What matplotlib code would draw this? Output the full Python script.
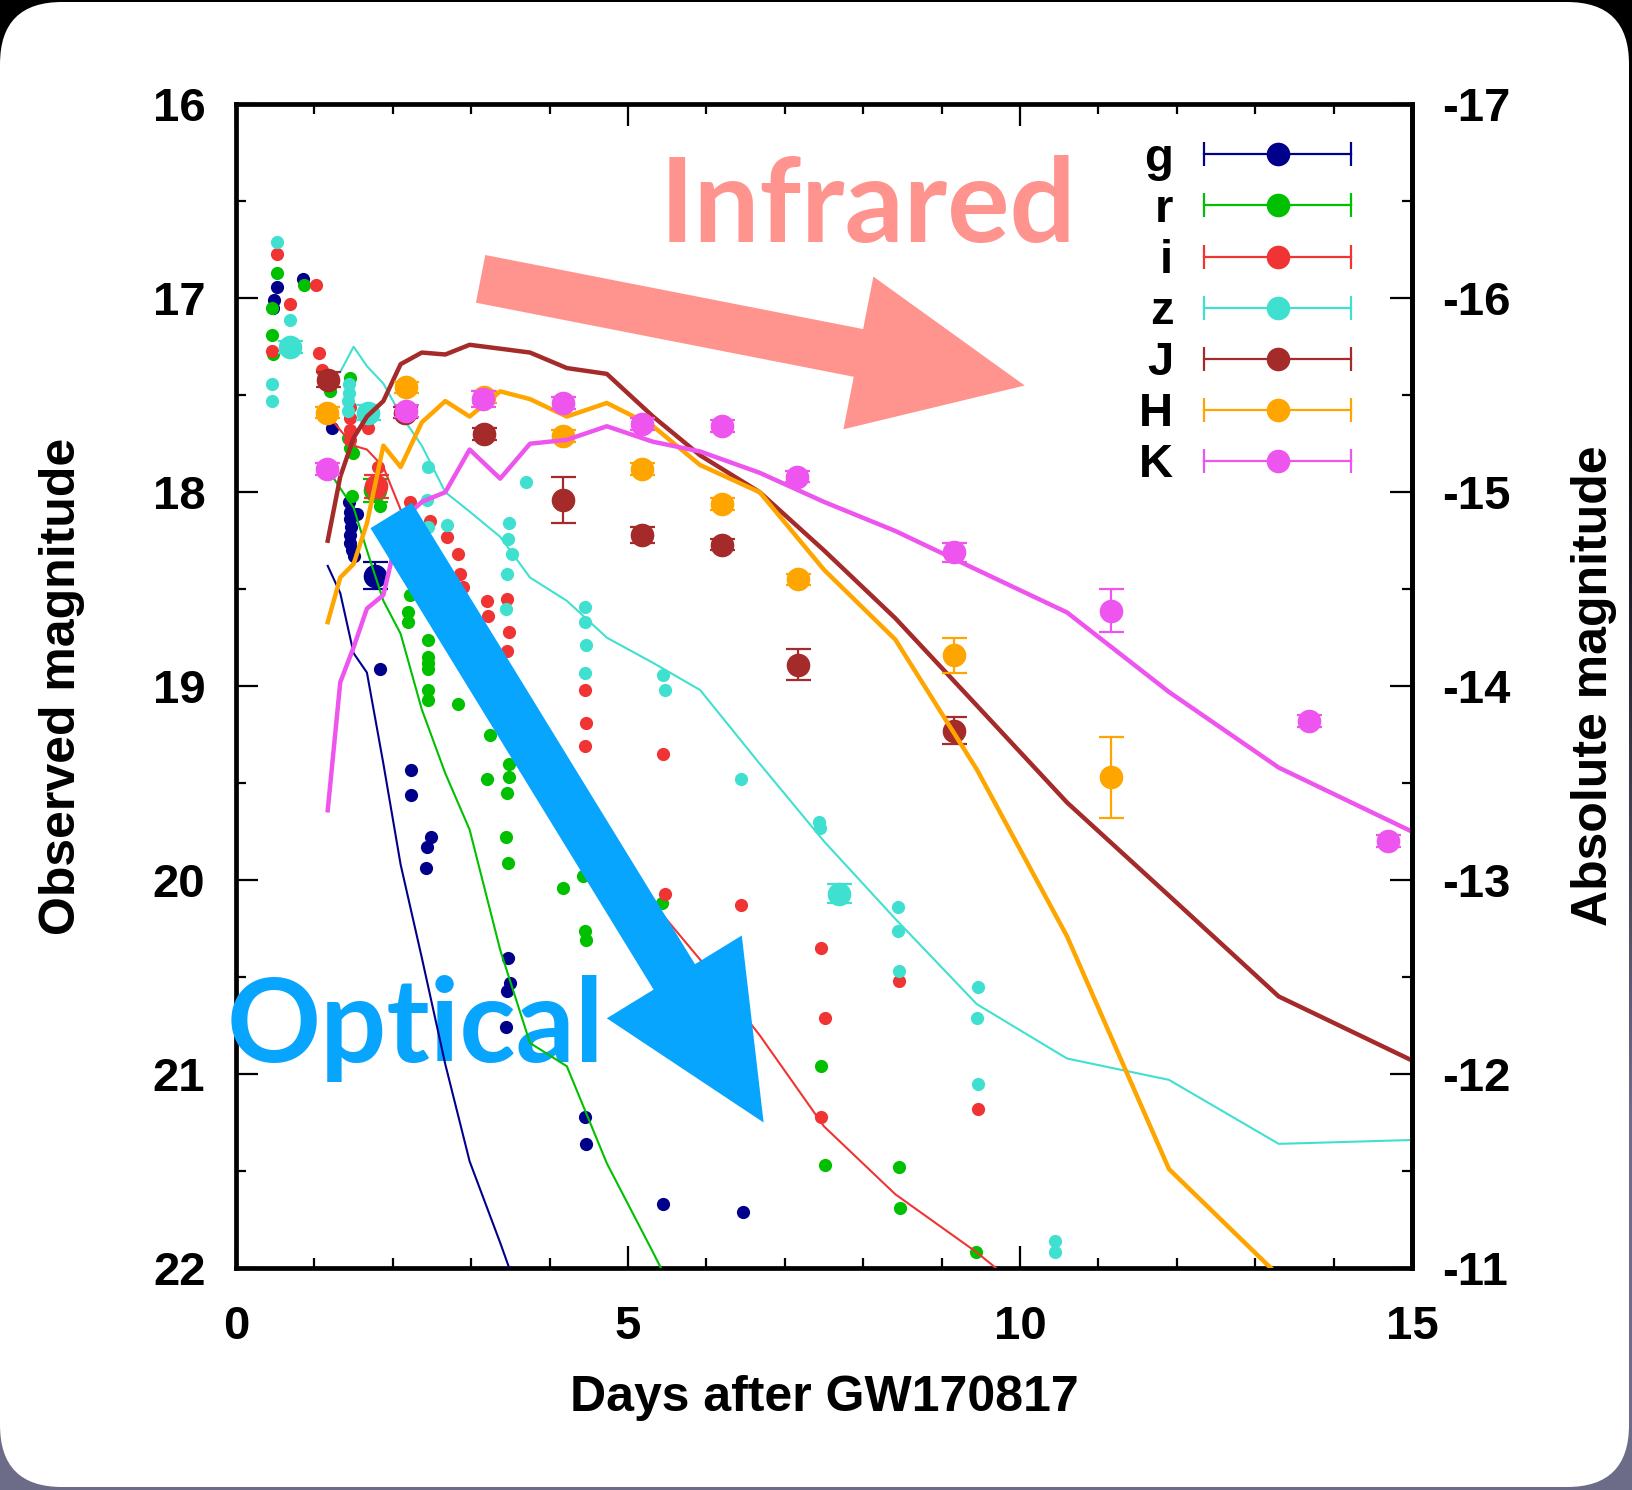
import numpy as np
import matplotlib
matplotlib.use('Agg')
import matplotlib.pyplot as plt
from matplotlib.ticker import MultipleLocator
from matplotlib.lines import Line2D
from matplotlib.legend_handler import HandlerBase
from matplotlib.patches import FancyBboxPatch, FancyArrowPatch
from matplotlib.transforms import IdentityTransform
from matplotlib.colors import LinearSegmentedColormap

plt.rcParams['font.family'] = ['Liberation Sans', 'DejaVu Sans']
plt.rcParams['font.weight'] = 'bold'
plt.rcParams['axes.labelweight'] = 'bold'
plt.rcParams['axes.unicode_minus'] = False

bands = ['g', 'r', 'i', 'z', 'J', 'H', 'K']
colors = {'g': '#00008b', 'r': '#00c000', 'i': '#f03434', 'z': '#40e0d0',
          'J': '#a52a2a', 'H': '#ffa500', 'K': '#ee55ee'}

# small photometry points (days, mag)
g_t = [0.52, 0.48, 0.47, 0.86, 1.22, 1.44, 1.45, 1.46, 1.47, 1.45, 1.46, 1.48, 1.50, 1.54,
       1.84, 2.23, 2.23, 2.49, 2.44, 2.42, 3.47, 3.50, 3.46, 3.44, 4.45, 4.46, 5.45, 6.47]
g_m = [16.94, 17.01, 17.05, 16.90, 17.67, 18.05, 18.10, 18.14, 18.18, 18.22, 18.26, 18.30, 18.33, 18.11,
       18.91, 19.43, 19.56, 19.78, 19.83, 19.94, 20.40, 20.53, 20.57, 20.76, 21.22, 21.36, 21.67, 21.71]

r_t = [0.52, 0.46, 0.46, 0.47, 0.87, 1.20, 1.45, 1.43, 1.45, 1.49, 1.48, 1.84, 2.22, 2.20, 2.20,
       2.45, 2.45, 2.45, 2.45, 2.45, 2.45, 2.83, 3.24, 3.48, 3.20, 3.48, 3.46, 3.44, 3.47, 4.17,
       4.43, 4.45, 4.46, 5.43, 7.46, 7.51, 8.46, 8.47, 9.44]
r_m = [16.87, 17.05, 17.19, 17.29, 16.93, 17.48, 17.41, 17.72, 17.77, 17.80, 18.02, 18.07, 18.53, 18.62, 18.67,
       18.76, 18.85, 18.88, 18.91, 19.02, 19.07, 19.09, 19.25, 19.40, 19.48, 19.47, 19.55, 19.78, 19.91, 20.04,
       19.98, 20.26, 20.31, 20.12, 20.96, 21.47, 21.48, 21.69, 21.92]

i_t = [0.52, 1.02, 0.69, 0.46, 1.06, 1.10, 1.45, 1.45, 1.45, 1.45, 1.68, 1.81, 2.22, 2.47, 2.69,
       2.83, 2.86, 2.90, 3.20, 3.21, 3.46, 3.48, 3.46, 4.45, 4.46, 4.45, 5.45, 5.47, 6.44, 7.46,
       7.51, 7.46, 8.46, 9.47]
i_m = [16.77, 16.93, 17.03, 17.27, 17.28, 17.37, 17.56, 17.62, 17.68, 17.73, 17.67, 17.87, 18.05, 18.15, 18.23,
       18.32, 18.42, 18.49, 18.56, 18.64, 18.55, 18.72, 18.82, 19.02, 19.19, 19.31, 19.35, 20.07, 20.13, 20.35,
       20.71, 21.22, 20.52, 21.18]

z_t = [0.52, 0.69, 0.46, 0.46, 1.44, 1.44, 1.43, 1.43, 2.45, 2.44, 2.45, 2.69, 3.70, 3.48, 3.47,
       3.52, 3.46, 3.44, 4.45, 4.45, 4.47, 4.45, 5.45, 5.47, 6.44, 7.44, 7.45, 8.44, 8.45, 8.46,
       9.46, 9.45, 9.47, 10.45, 10.45]
z_m = [16.71, 17.11, 17.44, 17.53, 17.44, 17.49, 17.53, 17.58, 17.87, 18.04, 18.18, 18.17, 17.95, 18.16, 18.24,
       18.32, 18.42, 18.60, 18.59, 18.67, 18.79, 18.93, 18.94, 19.02, 19.48, 19.70, 19.73, 20.14, 20.26, 20.47,
       20.55, 20.71, 21.05, 21.86, 21.92]

small = {'g': (g_t, g_m), 'r': (r_t, r_m), 'i': (i_t, i_m), 'z': (z_t, z_m)}

# points with error bars (days, mag, err)
big = {
    'g': ([1.77], [18.43], [0.07]),
    'r': ([1.77], [17.99], [0.06]),
    'i': ([1.78], [17.97], [0.06]),
    'z': ([0.69, 1.68, 7.69], [17.25, 17.59, 20.07], [0.03, 0.04, 0.05]),
    'J': ([1.17, 2.16, 3.16, 4.17, 5.18, 6.20, 7.17, 9.16],
          [17.42, 17.59, 17.70, 18.04, 18.22, 18.27, 18.89, 19.23],
          [0.04, 0.03, 0.03, 0.12, 0.04, 0.03, 0.08, 0.07]),
    'H': ([1.16, 2.17, 3.16, 4.17, 5.18, 6.20, 7.17, 9.16, 11.16],
          [17.59, 17.46, 17.51, 17.71, 17.88, 18.06, 18.45, 18.84, 19.47],
          [0.03, 0.03, 0.03, 0.03, 0.03, 0.03, 0.03, 0.09, 0.21]),
    'K': ([1.16, 2.17, 3.15, 4.17, 5.18, 6.20, 7.16, 9.16, 11.16, 13.69, 14.70],
          [17.88, 17.58, 17.52, 17.54, 17.65, 17.66, 17.92, 18.31, 18.61, 19.18, 19.80],
          [0.03, 0.03, 0.04, 0.03, 0.03, 0.03, 0.03, 0.05, 0.11, 0.03, 0.03]),
}

# model light curves
t_mod = [1.17, 1.33, 1.5, 1.67, 1.88, 2.1, 2.37, 2.67, 2.98, 3.37, 3.75, 4.22, 4.73, 5.32,
         5.92, 6.68, 7.5, 8.41, 9.45, 10.6, 11.9, 13.3, 15.0]
g_mod = [18.38, 18.52, 18.83, 18.93, 19.4, 19.92, 20.4, 20.95, 21.45, 21.87, 22.3]
r_mod = [17.88, 17.98, 18.08, 18.3, 18.56, 18.73, 19.12, 19.45, 19.74, 20.36, 20.84, 20.96, 21.46, 21.92, 22.4]
i_mod = [17.6, 17.68, 17.76, 17.78, 17.87, 18.09, 18.3, 18.55, 18.8, 19.08, 19.33, 19.6, 19.85, 20.12,
         20.41, 20.8, 21.27, 21.62, 21.92, 22.3]
z_mod = [17.40, 17.38, 17.25, 17.35, 17.44, 17.6, 17.76, 18.0, 18.1, 18.23, 18.44, 18.56, 18.75, 18.88,
         19.02, 19.4, 19.8, 20.2, 20.64, 20.92, 21.03, 21.36, 21.34]
J_mod = [18.25, 17.92, 17.72, 17.61, 17.53, 17.34, 17.28, 17.29, 17.24, 17.26, 17.28, 17.36, 17.39, 17.61,
         17.81, 18.0, 18.3, 18.65, 19.1, 19.6, 20.08, 20.6, 20.93]
H_mod = [18.67, 18.44, 18.37, 18.16, 17.76, 17.87, 17.64, 17.53, 17.61, 17.48, 17.52, 17.61, 17.54, 17.66,
         17.86, 18.0, 18.4, 18.76, 19.43, 20.29, 21.49, 22.04, 22.8]
K_mod = [19.64, 18.98, 18.8, 18.6, 18.53, 18.15, 18.05, 18.0, 17.78, 17.93, 17.75, 17.73, 17.66, 17.74,
         17.79, 17.9, 18.05, 18.2, 18.4, 18.62, 19.03, 19.42, 19.75]
models = {'g': g_mod, 'r': r_mod, 'i': i_mod, 'z': z_mod, 'J': J_mod, 'H': H_mod, 'K': K_mod}

DIST_MOD = 33  # absolute = observed - 33


class ErrKey(HandlerBase):
    # gnuplot style key: horizontal bar with caps and a dot
    def create_artists(self, legend, orig, xd, yd, w, h, fontsize, trans):
        c = orig.get_color()
        y = h / 2 - yd
        x0, x1 = -xd, -xd + w
        bar = Line2D([x0, x1], [y, y], color=c, lw=1.6)
        caps = Line2D([x0, x1], [y, y], color=c, ls='none', marker='|', ms=17, mew=1.6)
        dot = Line2D([(x0 + x1) / 2], [y], color=c, ls='none', marker='o', ms=17, mew=0)
        for a in (bar, caps, dot):
            a.set_transform(trans)
        return [bar, caps, dot]


fig = plt.figure(figsize=(16.32, 14.90), dpi=100)

# dark backdrop + white rounded card
bg = fig.add_axes([0, 0, 1, 1], zorder=-2)
bg.imshow([[0], [1]], cmap=LinearSegmentedColormap.from_list('bg', ['#000000', '#6c6c88']),
          aspect='auto', extent=[0, 1, 0, 1], interpolation='bilinear')
bg.axis('off')
card = FancyBboxPatch((0, 3), 1629, 1485, boxstyle='round,pad=0,rounding_size=62',
                      transform=IdentityTransform(), facecolor='white', edgecolor='none', zorder=-1)
fig.add_artist(card)

ax = fig.add_axes([0.1446, 0.149, 0.7206, 0.781])

for b in bands:
    c = colors[b]
    if b in small:
        ax.plot(small[b][0], small[b][1], 'o', color=c, ms=9.5, mew=0, zorder=3)
    bt, bm, be = big[b]
    ax.errorbar(bt, bm, yerr=be, fmt='none', ecolor=c, elinewidth=1.6,
                capsize=9, capthick=1.6, zorder=3)
    ax.plot(bt, bm, 'o', color=c, ms=17, mew=0, zorder=3)
    lw = 3.2 if b in 'JHK' else 1.5
    ax.plot(t_mod[:len(models[b])], models[b], '-', color=c, lw=lw, zorder=3)

ax.set_xlim(0, 15)
ax.set_ylim(22, 16)
ax.xaxis.set_major_locator(MultipleLocator(5))
ax.xaxis.set_minor_locator(MultipleLocator(1))
ax.yaxis.set_major_locator(MultipleLocator(1))
ax.yaxis.set_minor_locator(MultipleLocator(0.5))
ax.tick_params(which='both', direction='in', top=True, right=False, width=1.6, labelsize=34)
ax.tick_params(which='major', length=16)
ax.tick_params(which='minor', length=7)
ax.tick_params(axis='x', pad=27)
ax.tick_params(axis='y', pad=22)
for s in ax.spines.values():
    s.set_linewidth(3.4)

ax2 = ax.twinx()
ax2.set_ylim(22 - DIST_MOD, 16 - DIST_MOD)
ax2.yaxis.set_major_locator(MultipleLocator(1))
ax2.yaxis.set_minor_locator(MultipleLocator(0.5))
ax2.tick_params(which='both', direction='in', width=1.6, labelsize=34, pad=22)
ax2.tick_params(which='major', length=16)
ax2.tick_params(which='minor', length=7)
for k, s in ax2.spines.items():
    s.set_visible(k == 'right')
    s.set_linewidth(3.4)

ax.set_xlabel('Days after GW170817', fontsize=36, va='center')
ax.xaxis.set_label_coords(0.5, -0.1117)
ax.set_ylabel('Observed magnitude', fontsize=36, va='center')
ax.yaxis.set_label_coords(-0.1476, 0.5)
ax2.set_ylabel('Absolute magnitude', fontsize=36, rotation=90, va='center')
ax2.yaxis.set_label_coords(1.155, 0.5)

handles = [Line2D([], [], color=colors[b]) for b in bands]
ax.legend(handles, bands, handler_map={Line2D: ErrKey()}, loc='upper right',
          bbox_to_anchor=(0.948, 0.972), frameon=False, markerfirst=False, fontsize=34,
          handlelength=3.1, handletextpad=0.66, labelspacing=0.15, borderpad=0, borderaxespad=0)

# annotations
ax.text(0.139, 0.2872, 'Optical', transform=fig.transFigure, fontsize=84, family='Lato',
        fontweight='bold', color='#08a5ff', zorder=2.7, clip_on=False)
ax.text(0.4044, 0.8376, 'Infrared', transform=fig.transFigure, fontsize=84, family='Lato',
        fontweight='bold', color='#ff938e', zorder=2.7, clip_on=False)
ax.add_patch(FancyArrowPatch((3.12, 16.90), (10.06, 17.45), mutation_scale=100,
                             arrowstyle='simple,head_length=1.22,head_width=1.12,tail_width=0.35',
                             color='#ff938e', lw=0, shrinkA=0, shrinkB=0, zorder=4, clip_on=False))
ax.add_patch(FancyArrowPatch((1.98, 18.12), (6.73, 21.25), mutation_scale=100,
                             arrowstyle='simple,head_length=1.23,head_width=1.14,tail_width=0.35',
                             color='#08a5ff', lw=0, shrinkA=0, shrinkB=0, zorder=4, clip_on=False))

fig.savefig('out.png', dpi=100)
